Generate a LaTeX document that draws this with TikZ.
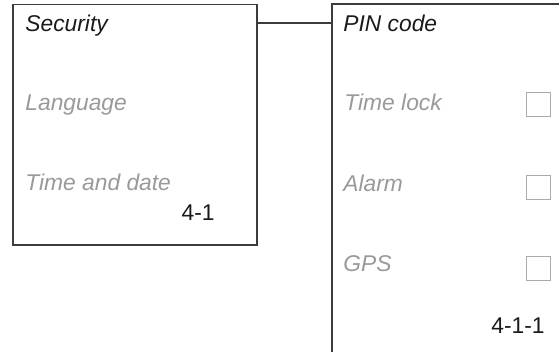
\documentclass[tikz,border=0pt]{standalone}
\usepackage{fontspec}
\setmainfont{Liberation Sans}
\usetikzlibrary{positioning}
\definecolor{framegray}{HTML}{3C3C3C}
\definecolor{itemgray}{HTML}{999999}
\definecolor{chkgray}{HTML}{AAAAAA}
\definecolor{inkblack}{HTML}{1A1A1A}
\tikzset{
  menubox/.style={draw=framegray, line width=0.65pt, rectangle, inner sep=0pt},
  item/.style={anchor=base west, inner sep=0pt, font=\fontsize{11.4}{13}\selectfont\itshape, text=itemgray},
  selitem/.style={item, text=inkblack},
  pageno/.style={anchor=base east, inner sep=0pt, font=\fontsize{11.4}{13}\selectfont, text=inkblack},
  chk/.style={draw=chkgray, line width=0.5pt, rectangle, minimum size=12pt, inner sep=0pt},
  link/.style={draw=framegray, line width=0.65pt},
}

\begin{document}
\begin{tikzpicture}[x=0.5pt, y=-0.5pt]
\useasboundingbox (0,0) rectangle (559,352);

% Menu 4-1
\node[menubox, minimum width=122pt, minimum height=120.25pt] (secbox) at (135,124.75) {};
\node[selitem] (security) at (25,32) {Security};
\node[item] (language) at (25,111) {Language};
\node[item] (timedate) at (25,191) {Time and date};
\node[pageno] (pg41) at (215,221) {4-1};

% Menu 4-1-1 (runs off the page)
\coordinate (pintop) at (332,4);
\coordinate (pinedge) at (332,23);
\draw[link] (559,4) -- (pintop) -- (332,352);
\node[selitem] (pincode) at (343,32) {PIN code};
\node[item] (timelock) at (344,111) {Time lock};
\node[item] (alarm) at (343,192) {Alarm};
\node[item] (gps) at (343,272) {GPS};
\node[chk] (chklock) at (539,104.5) {};
\node[chk] (chkalarm) at (539,187.5) {};
\node[chk] (chkgps) at (539,268.5) {};
\node[pageno] (pg411) at (545,334) {4-1-1};

% Link
\draw[link] (secbox.east |- pinedge) -- (pinedge);

\end{tikzpicture}
\end{document}
